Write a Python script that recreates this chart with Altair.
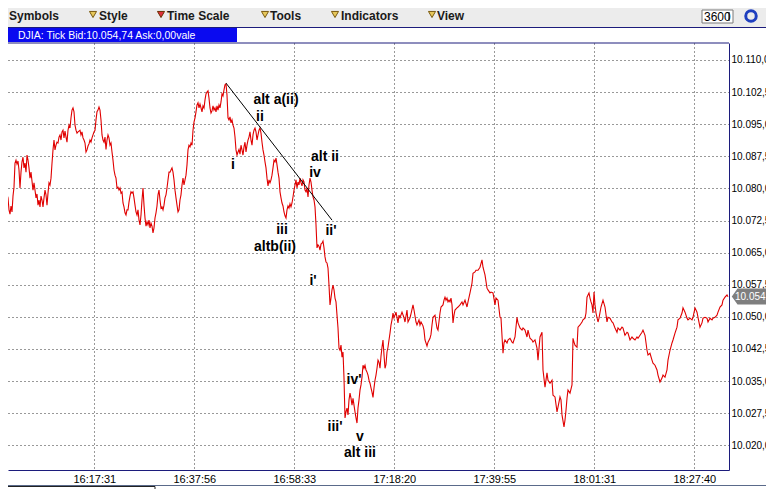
import json
import altair as alt
import pandas as pd

# ---------------- data ----------------
# DJIA tick chart: tick index (position in the tick stream) and price
prices_a = [  # ticks 0 .. 400, one per tick
    10070.8, 10067.7, 10071.0, 10067.5, 10071.2, 10073.3, 10077.3, 10078.5, 10077.8, 10075.0,
    10074.0, 10075.9, 10074.5, 10078.2, 10080.3, 10085.9, 10086.6, 10085.7, 10086.4, 10084.3,
    10080.1, 10083.8, 10086.2, 10087.3, 10084.8, 10085.9, 10083.8, 10087.8, 10086.6, 10084.8,
    10082.4, 10083.8, 10081.7, 10079.6, 10081.3, 10079.6, 10077.8, 10078.7, 10076.1, 10077.3,
    10075.7, 10078.2, 10077.3, 10075.7, 10077.8, 10079.6, 10078.5, 10076.1, 10078.9, 10081.3,
    10080.8, 10082.4, 10085.9, 10089.0, 10091.3, 10089.0, 10090.1, 10090.8, 10090.6, 10092.0,
    10092.5, 10091.3, 10093.2, 10093.6, 10091.8, 10093.4, 10092.0, 10090.8, 10093.6, 10094.8,
    10094.1, 10096.5, 10098.3, 10098.8, 10097.9, 10094.8, 10093.6, 10092.9, 10093.2, 10093.4,
    10093.6, 10092.5, 10093.2, 10091.8, 10091.3, 10090.6, 10088.5, 10089.0, 10089.9, 10090.4,
    10091.3, 10090.8, 10091.8, 10092.5, 10093.2, 10093.6, 10096.0, 10097.9, 10098.3, 10099.0,
    10098.3, 10096.0, 10092.5, 10091.3, 10090.8, 10092.0, 10089.1, 10091.3, 10092.5, 10091.8,
    10090.1, 10090.6, 10088.5, 10086.6, 10084.3, 10083.1, 10082.4, 10080.1, 10080.3, 10079.6,
    10080.1, 10078.9, 10079.2, 10076.6, 10075.7, 10074.3, 10073.8, 10075.0, 10075.0, 10076.8,
    10078.2, 10079.2, 10078.9, 10079.2, 10077.8, 10076.1, 10074.5, 10073.8, 10075.0, 10072.6,
    10071.5, 10073.8, 10077.3, 10080.1, 10076.1, 10073.1, 10071.2, 10072.2, 10071.5, 10072.6,
    10070.8, 10071.9, 10071.2, 10069.6, 10070.8, 10073.1, 10074.3, 10075.9, 10078.5, 10079.6,
    10077.3, 10075.4, 10075.7, 10075.0, 10076.1, 10077.8, 10078.5, 10080.1, 10082.0, 10083.8,
    10083.8, 10084.3, 10084.8, 10083.8, 10082.0, 10079.6, 10077.8, 10076.1, 10074.5, 10075.0,
    10077.3, 10078.5, 10080.8, 10082.4, 10080.8, 10082.0, 10083.1, 10085.5, 10089.0, 10090.1,
    10089.7, 10090.6, 10090.1, 10093.6, 10095.5, 10096.5, 10097.9, 10099.5, 10100.0, 10098.8,
    10099.7, 10098.8, 10097.9, 10099.3, 10098.8, 10100.7, 10102.1, 10102.5, 10102.8, 10101.1,
    10098.8, 10097.6, 10098.1, 10099.3, 10098.3, 10098.8, 10097.9, 10099.3, 10098.3, 10099.5,
    10098.8, 10100.2, 10102.1, 10101.6, 10103.0, 10104.2, 10104.4, 10101.8, 10096.5, 10096.0,
    10096.7, 10095.3, 10096.0, 10094.8, 10094.1, 10092.0, 10089.0, 10087.8, 10088.5, 10089.1,
    10088.0, 10090.1, 10089.0, 10087.8, 10089.7, 10090.8, 10088.5, 10090.1, 10091.3, 10092.0,
    10093.2, 10091.3, 10090.1, 10092.5, 10093.6, 10094.1, 10093.2, 10091.3, 10092.5, 10093.6,
    10094.1, 10092.9, 10090.8, 10089.0, 10087.8, 10086.2, 10084.8, 10082.4, 10080.6, 10082.0,
    10081.3, 10082.0, 10083.1, 10084.8, 10086.6, 10086.2, 10087.1, 10085.5, 10083.8, 10082.4,
    10079.2, 10077.8, 10076.6, 10075.9, 10074.5, 10073.6, 10073.1, 10075.0, 10075.9, 10075.4,
    10076.4, 10075.7, 10076.6, 10078.0, 10079.6, 10080.8, 10082.0, 10080.1, 10081.5, 10080.8,
    10082.4, 10081.3, 10080.6, 10082.0, 10081.5, 10079.6, 10079.2, 10080.1, 10078.0, 10080.8,
    10082.4, 10081.5, 10079.6, 10078.0, 10077.3, 10075.7, 10071.5, 10066.1, 10066.8, 10066.5,
    10065.6, 10067.0, 10067.2, 10067.7, 10066.1, 10064.0, 10062.8, 10062.6, 10061.4, 10057.4,
    10052.8, 10054.4, 10056.3, 10057.4, 10056.3, 10054.4, 10053.5, 10050.4, 10047.4, 10042.7,
    10042.2, 10043.4, 10040.6, 10041.8, 10035.7, 10026.4, 10027.8, 10028.7, 10027.1, 10030.6,
    10032.2, 10031.0, 10029.4, 10031.0, 10029.4, 10027.8, 10026.4, 10025.2, 10028.7, 10030.6,
    10032.9, 10034.1, 10035.9, 10038.7, 10038.0, 10038.7, 10037.6, 10037.1, 10036.4, 10035.2,
    10034.5, 10033.4, 10032.4, 10031.2, 10033.4, 10035.2, 10036.4, 10038.0, 10039.9, 10039.4,
    10038.0, 10040.8, 10042.9, 10044.6, 10041.1, 10038.0, 10038.9, 10041.8, 10042.9, 10044.6,
    10046.2, 10048.1, 10049.3, 10050.9, 10049.8, 10050.4, 10051.1, 10049.8, 10048.6, 10050.4,
    10049.8,
]
ticks_a = list(range(0, len(prices_a)))

ticks_b = [
    402, 404, 405, 407, 408, 410, 411, 413, 414, 416,
    417, 419, 420, 421, 423, 424, 425, 427, 428, 430,
    431, 432, 433, 435, 436, 437, 438, 440, 441, 443,
    444, 445, 446, 447, 448, 449, 450, 451, 452, 453,
    454, 455, 457, 458, 460, 462, 463, 465, 467, 468,
    470, 472, 473, 475, 476, 478, 480, 482, 483, 485,
    487, 488, 490, 491, 493, 495, 496, 498, 500, 501,
    503, 504, 505, 507, 508, 510, 512, 513, 515, 517,
    518, 520, 522, 523, 525, 527, 528, 530, 532, 533,
    535, 537, 538, 540, 542, 543, 545, 547, 548, 550,
    552, 553, 555, 557, 558, 560,
]
prices_b = [
    10051.1, 10049.8, 10048.8, 10051.6, 10048.8, 10049.8, 10050.7, 10052.8, 10051.6, 10048.8,
    10048.1, 10049.3, 10048.1, 10048.8, 10047.9, 10046.9, 10044.6, 10043.2, 10044.1, 10045.0,
    10045.9, 10048.1, 10049.9, 10050.4, 10048.8, 10047.4, 10046.9, 10050.9, 10052.3, 10052.8,
    10053.9, 10054.6, 10053.9, 10054.4, 10053.5, 10053.9, 10053.5, 10054.4, 10052.8, 10048.6,
    10050.4, 10051.6, 10052.1, 10052.3, 10052.8, 10053.5, 10052.8, 10053.9, 10052.3, 10053.5,
    10055.6, 10057.9, 10060.2, 10060.5, 10060.9, 10060.9, 10061.6, 10063.3, 10061.6, 10059.8,
    10056.7, 10056.3, 10055.6, 10055.8, 10055.6, 10052.8, 10054.4, 10053.9, 10049.9, 10049.7,
    10041.5, 10043.9, 10044.6, 10043.9, 10044.6, 10045.0, 10044.1, 10043.9, 10045.3, 10049.9,
    10048.6, 10047.4, 10046.9, 10047.4, 10046.9, 10045.3, 10046.9, 10045.0, 10044.6, 10044.1,
    10044.6, 10042.7, 10039.9, 10045.3, 10046.4, 10037.6, 10033.6, 10036.9, 10035.2, 10034.5,
    10035.2, 10031.7, 10031.3, 10027.8, 10028.9, 10031.3,
]

ticks_c = [
    561, 562, 564, 565, 566, 567, 568, 570, 572, 573,
    574, 575, 577, 578, 580, 582, 583, 585, 586, 587,
    589, 590, 591, 592, 593, 594, 595, 596, 598, 599,
    601, 603, 605, 607, 608, 610, 612, 613, 615, 617,
    618, 620, 622, 623, 625, 627, 628, 630, 632, 633,
    635, 637, 638, 640, 642, 643, 645, 647, 648, 650,
    652, 653, 655, 657, 658, 660, 662, 663, 665, 667,
    668, 670, 672, 673, 675, 677, 678, 680, 682, 683,
    685, 687, 688, 690, 692, 693, 695, 697, 698, 700,
    702, 703, 705, 707, 708, 710, 712, 713, 715, 717,
    718, 720, 722, 723, 725, 727, 728,
]
prices_c = [
    10030.6, 10027.1, 10024.3, 10025.9, 10028.2, 10031.0, 10032.9, 10032.2, 10034.1, 10045.0,
    10044.1, 10043.4, 10042.9, 10047.6, 10048.1, 10048.8, 10049.3, 10049.7, 10050.9, 10054.6,
    10055.6, 10054.4, 10053.5, 10052.8, 10050.9, 10055.8, 10052.8, 10050.9, 10048.8, 10049.7,
    10052.3, 10053.9, 10052.3, 10048.8, 10049.9, 10049.7, 10048.8, 10048.6, 10047.4, 10046.4,
    10047.4, 10046.9, 10047.6, 10047.4, 10045.7, 10046.4, 10046.2, 10044.6, 10045.3, 10045.0,
    10044.6, 10045.3, 10045.0, 10045.7, 10046.4, 10046.9, 10045.7, 10042.2, 10041.1, 10041.5,
    10039.9, 10039.2, 10038.7, 10037.6, 10036.4, 10034.8, 10035.7, 10036.4, 10035.9, 10037.6,
    10039.9, 10042.2, 10043.9, 10044.6, 10046.2, 10047.6, 10049.3, 10049.7, 10050.9, 10052.1,
    10051.1, 10049.7, 10049.3, 10049.7, 10049.3, 10049.9, 10052.1, 10051.1, 10049.9, 10047.6,
    10048.6, 10049.7, 10049.9, 10049.7, 10048.8, 10049.7, 10049.3, 10049.7, 10049.9, 10050.4,
    10051.1, 10052.3, 10052.8, 10053.9, 10054.6, 10055.1, 10054.7,
]

last_bid = 10054.74

# axis ticks
time_ticks = [94.3, 194.3, 294.3, 394.3, 494.3, 594.3, 694.3]
time_labels = ["16:17:31", "16:37:56", "16:58:33", "17:18:20", "17:39:55", "18:01:31", "18:27:40"]
price_ticks = [10020.0, 10027.5, 10035.0, 10042.5, 10050.0, 10057.5, 10065.0,
               10072.5, 10080.0, 10087.5, 10095.0, 10102.5, 10110.0]

# Elliott-wave annotations (tick, price)
wave_text = ["alt a(ii)", "ii", "i", "alt ii", "iv", "iii", "altb(ii)", "ii'", "i'",
             "iv'", "iii'", "v", "alt iii"]
wave_tick = [276, 260, 233, 325, 315, 282, 275, 331, 313, 354, 335, 360, 360]
wave_price = [10100.7, 10096.7, 10085.5, 10087.3, 10083.7, 10070.3, 10066.4, 10070.0,
              10058.4, 10035.2, 10024.3, 10021.9, 10018.3]

# hand-drawn trend line
trend_tick = [226, 332]
trend_price = [10104.6, 10072.6]

# toolbar menu
menu_items = ["Symbols", "Style", "Time Scale", "Tools", "Indicators", "View"]

# ---------------- build ----------------
ticks = ticks_a + ticks_b + ticks_c
prices = prices_a + prices_b + prices_c
assert len(ticks) == len(prices)

NAVY = "#1c1c7c"
RED = "#e00000"
W, H = 721, 427
xs = alt.Scale(domain=[8, 729], nice=False, zero=False)
ys = alt.Scale(domain=[10014.23, 10113.97], nice=False, zero=False)

def eur(v, nd):
    s = f"{v:,.{nd}f}"
    return s.replace(",", "#").replace(".", ",").replace("#", ".")

x_label_expr = json.dumps(time_labels) + "[round((datum.value - 94.3) / 100)]"
y_label_expr = "replace(replace(replace(format(datum.value, ',.1f'), ',', '#'), '.', ','), '#', '.')"

X_AXIS = alt.Axis(values=time_ticks, labelExpr=x_label_expr, orient="bottom", grid=True,
                  ticks=False, title=None, labelPadding=3, labelFlush=False, labelOverlap=False,
                  labelFontSize=11)
Y_AXIS = alt.Axis(values=price_ticks, labelExpr=y_label_expr, orient="right", grid=True,
                  ticks=False, title=None, labelPadding=2, labelFlush=False, labelOverlap=False,
                  labelAlign="left", labelFontSize=10)
X_ENC = alt.X("tick:Q", scale=xs, axis=X_AXIS)
Y_ENC = alt.Y("price:Q", scale=ys, axis=Y_AXIS)

ONE = pd.DataFrame({"k": [0]})

def deco_rect(x1, x2, y1, y2, **kw):
    return alt.Chart(ONE).mark_rect(**kw).encode(
        x=alt.value(x1), x2=alt.value(x2), y=alt.value(y1), y2=alt.value(y2))

def deco_rule(x1, x2, y1, y2, **kw):
    return alt.Chart(ONE).mark_rule(**kw).encode(
        x=alt.value(x1), x2=alt.value(x2), y=alt.value(y1), y2=alt.value(y2))

def deco_text(s, x, y, **kw):
    return alt.Chart(pd.DataFrame({"t": [s]})).mark_text(**kw).encode(
        x=alt.value(x), y=alt.value(y), text="t:N")

def deco_point(x, y, **kw):
    return alt.Chart(ONE).mark_point(**kw).encode(x=alt.value(x), y=alt.value(y))

df = pd.DataFrame({"tick": ticks, "price": prices})
line = alt.Chart(df).mark_line(color=RED, strokeWidth=1.1, clip=True).encode(x=X_ENC, y=Y_ENC)

trend = alt.Chart(pd.DataFrame({"tick": trend_tick, "price": trend_price})).mark_line(
    color="black", strokeWidth=1).encode(x=X_ENC, y=Y_ENC)

waves = alt.Chart(pd.DataFrame({"tick": wave_tick, "price": wave_price, "label": wave_text})).mark_text(
    font="Liberation Sans", fontSize=14, fontWeight="bold", color="black",
    align="center", baseline="middle").encode(x=X_ENC, y=Y_ENC, text="label:N")

tag_df = pd.DataFrame({"price": [last_bid], "label": [eur(last_bid, 1)]})
tag_shape = "M-1,0L-0.79,-0.29L1,-0.29L1,0.29L-0.79,0.29Z"
tag = alt.Chart(tag_df).mark_point(shape=tag_shape, size=2304, filled=True,
                                   fill="#7f7f7f", stroke="#7f7f7f", opacity=1).encode(
    x=alt.value(749), y=Y_ENC)
tag_text = alt.Chart(tag_df).mark_text(align="left", baseline="middle", color="white",
                                       font="Liberation Sans", fontSize=10).encode(
    x=alt.value(727), y=Y_ENC, text="label:N")

layers = [line, trend, waves, tag, tag_text]

# top frame of the plot
layers.append(deco_rule(-8, W, 0, 0, color=NAVY, strokeWidth=1))

# toolbar
layers.append(deco_rect(-8, 770, -36, -16, fill="#ececec"))
layers.append(deco_rule(-8, 770, -15.5, -15.5, color=NAVY, strokeWidth=1))
text_x = [1, 91, 159, 262, 333, 429]
icon_x = [-4, 85, 153, 257, 327, 424]
for name, tx, ix in zip(menu_items, text_x, icon_x):
    is_red = name == "Time Scale"
    layers.append(deco_point(ix, -28.5, shape="triangle-down", filled=True,
                             fill="#e0303c" if is_red else "#e6c75a",
                             stroke="#6a3000" if is_red else "#7a5a10",
                             strokeWidth=1, size=50, opacity=1))
    layers.append(deco_text(name, tx, -27, font="Liberation Sans", fontSize=12, fontWeight="bold",
                            color="#1a1a1a", align="left", baseline="middle"))
layers.append(deco_rect(694, 725, -33, -20, fill="white", stroke="#7a7a7a", strokeWidth=1))
layers.append(deco_text("3600", 696, -26.5, font="Liberation Sans", fontSize=12, color="black",
                        align="left", baseline="middle"))
layers.append(deco_rule(721, 721, -31, -22, color="black", strokeWidth=1))
layers.append(deco_point(743, -27, shape="circle", filled=False, stroke="#1f3fbf",
                         strokeWidth=3, size=110, opacity=1))

# chart title bar
layers.append(deco_rect(-8, 229, -15, -1, fill="#0a0af0"))
layers.append(deco_text(f"DJIA: Tick Bid:{eur(last_bid, 2)} Ask:0,00vale", 10, -7.5,
                        font="Liberation Sans", fontSize=10.5, color="white", align="left",
                        baseline="middle"))

# status bar at the bottom
layers.append(deco_rule(-8, 770, 442.5, 442.5, color="#5a6a8a", strokeWidth=1))
layers.append(deco_rect(-3, 147, 443.5, 452, fill="white", stroke="#222222", strokeWidth=1))

chart = alt.layer(*layers).properties(
    width=W, height=H,
    autosize=alt.AutoSizeParams(type="none"),
    padding={"left": 0, "top": 35, "right": 37, "bottom": 19},
    background="white",
).configure_view(stroke=None).configure_axis(
    gridColor="#333333", gridDash=[1, 3], gridWidth=1, gridOpacity=1,
    domainColor=NAVY, domainWidth=1,
    labelFont="Liberation Sans", labelColor="black",
)

chart.save("out.html", embed_options={"renderer": "svg", "actions": False})
